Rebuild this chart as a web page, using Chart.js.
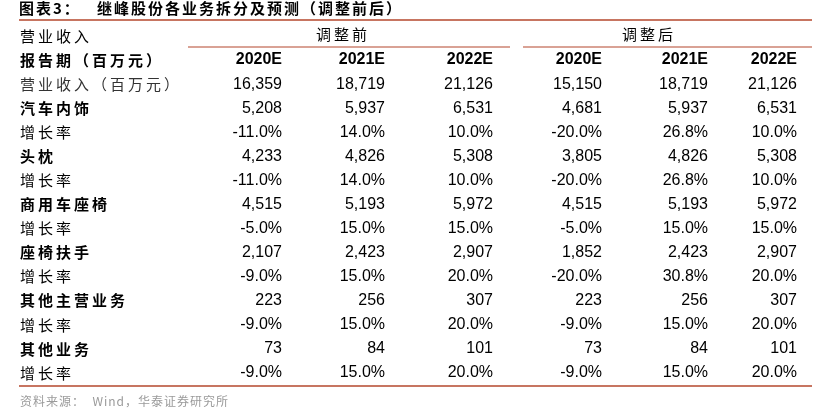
<!DOCTYPE html>
<html><head><meta charset="utf-8">
<script src="https://cdn.jsdelivr.net/npm/chart.js@4"></script>
<style>html,body{margin:0;background:#fff}#w{width:829px;height:410px}</style>
</head><body><div id="w"><canvas id="c"></canvas></div>
<script>
const title = "图表3：   继峰股份各业务拆分及预测（调整前后）";
const groups = ["调整前", "调整后"];
const years = ["2020E", "2021E", "2022E", "2020E", "2021E", "2022E"];
const rowLabels = ["营业收入（百万元）","汽车内饰","增长率","头枕","增长率","商用车座椅","增长率","座椅扶手","增长率","其他主营业务","增长率","其他业务","增长率"];
const boldRows = [false,true,false,true,false,true,false,true,false,true,false,true,false];
const before2020 = ["16,359","5,208","-11.0%","4,233","-11.0%","4,515","-5.0%","2,107","-9.0%","223","-9.0%","73","-9.0%"];
const before2021 = ["18,719","5,937","14.0%","4,826","14.0%","5,193","15.0%","2,423","15.0%","256","15.0%","84","15.0%"];
const before2022 = ["21,126","6,531","10.0%","5,308","10.0%","5,972","15.0%","2,907","20.0%","307","20.0%","101","20.0%"];
const after2020 = ["15,150","4,681","-20.0%","3,805","-20.0%","4,515","-5.0%","1,852","-20.0%","223","-9.0%","73","-9.0%"];
const after2021 = ["18,719","5,937","26.8%","4,826","26.8%","5,193","15.0%","2,423","30.8%","256","15.0%","84","15.0%"];
const after2022 = ["21,126","6,531","10.0%","5,308","10.0%","5,972","15.0%","2,907","20.0%","307","20.0%","101","20.0%"];
const source = "资料来源：  Wind，华泰证券研究所";

const cols = [before2020,before2021,before2022,after2020,after2021,after2022];
const colRight = [282,385,493,602,708,797];
const RED = "#b4472c";
const CJK = "'Noto Sans CJK SC'";
const NUM = "'Liberation Sans', Arial";

const pts = [];
cols.forEach((c,ci)=>c.forEach((v,ri)=>pts.push({x:colRight[ci],y:ri})));

const tablePlugin = {
  id:'table',
  afterDraw(chart){
    const ctx=chart.ctx, xs=chart.scales.x, ys=chart.scales.y;
    const X=v=>xs.getPixelForValue(v), Y=v=>ys.getPixelForValue(v);
    ctx.save();
    ctx.textBaseline='middle';
    ctx.fillStyle='#000'; ctx.textAlign='left';
    ctx.letterSpacing='2px';
    ctx.font="bold 15px "+CJK; ctx.fillText(title,X(19),8);
    ctx.strokeStyle=RED; ctx.lineWidth=1.5;
    ctx.beginPath(); ctx.moveTo(X(19),20); ctx.lineTo(X(812),20); ctx.stroke();
    ctx.letterSpacing='3px';
    ctx.font="15px "+CJK; ctx.textAlign='left';
    ctx.fillText("营业收入",X(20),Y(-2));
    ctx.textAlign='center';
    ctx.fillText(groups[0],X(343),Y(-2)-2);
    ctx.fillText(groups[1],X(649),Y(-2)-2);
    ctx.lineWidth=1.2;
    ctx.beginPath(); ctx.moveTo(X(188),47); ctx.lineTo(X(510),47); ctx.stroke();
    ctx.beginPath(); ctx.moveTo(X(523),47); ctx.lineTo(X(812),47); ctx.stroke();
    ctx.textAlign='left'; ctx.font="bold 15px "+CJK;
    ctx.fillText("报告期（百万元）",X(20),Y(-1));
    ctx.letterSpacing='0px';
    ctx.textAlign='right'; ctx.font="bold 16px "+NUM;
    years.forEach((y,i)=>ctx.fillText(y,X(colRight[i]),Y(-1)));
    rowLabels.forEach((r,i)=>{
      ctx.letterSpacing='3px';
      ctx.textAlign='left';
      ctx.fillStyle = i===0 ? '#333' : '#000';
      ctx.font=(boldRows[i]?"bold ":"")+"15px "+CJK;
      ctx.fillText(r,X(20),Y(i));
      ctx.letterSpacing='0px';
      ctx.fillStyle='#000';
      ctx.textAlign='right'; ctx.font="16px "+NUM;
      cols.forEach((c,ci)=>ctx.fillText(c[i],X(colRight[ci]),Y(i)));
    });
    ctx.strokeStyle=RED; ctx.lineWidth=1.5;
    ctx.beginPath(); ctx.moveTo(X(19),386); ctx.lineTo(X(812),386); ctx.stroke();
    ctx.letterSpacing='1px';
    ctx.fillStyle='#9a9a9a'; ctx.textAlign='left'; ctx.font="12px "+CJK;
    ctx.fillText(source,X(20),401);
    ctx.restore();
  }
};

new Chart(document.getElementById('c'),{
  type:'scatter',
  data:{datasets:[{data:pts,pointRadius:0,pointHoverRadius:0}]},
  options:{
    responsive:true, maintainAspectRatio:false, animation:false,
    layout:{padding:{left:0,right:0,top:36,bottom:37}},
    plugins:{legend:{display:false},tooltip:{enabled:false}},
    scales:{
      x:{type:'linear',min:0,max:829,display:false},
      y:{type:'linear',min:-2,max:12,reverse:true,display:false}
    }
  },
  plugins:[tablePlugin]
});
</script></body></html>
